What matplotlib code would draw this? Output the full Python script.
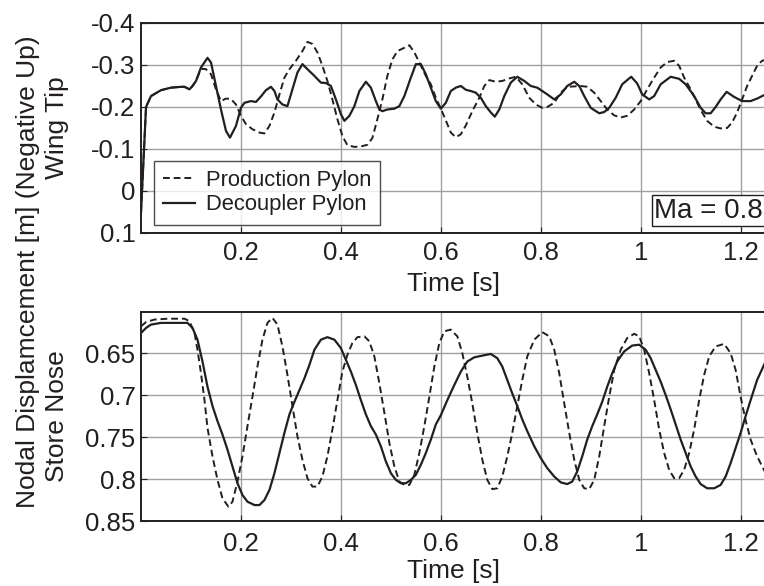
import matplotlib
matplotlib.use('agg')
import matplotlib.pyplot as plt

plt.rcParams['font.family'] = ['Liberation Sans', 'DejaVu Sans']

# Wing tip displacement (top panel)
t_prod_top = [0.0, 0.01, 0.02, 0.04, 0.06, 0.08, 0.087, 0.097, 0.103, 0.11, 0.12, 0.13, 0.14, 0.15,
              0.16, 0.17, 0.18, 0.19, 0.2, 0.21, 0.223, 0.237, 0.247, 0.257, 0.267, 0.277, 0.287,
              0.297, 0.31, 0.323, 0.333, 0.343, 0.353, 0.363, 0.373, 0.383, 0.393, 0.403, 0.413,
              0.427, 0.44, 0.453, 0.463, 0.473, 0.483, 0.493, 0.503, 0.513, 0.527, 0.537, 0.547,
              0.557, 0.57, 0.58, 0.59, 0.6, 0.61, 0.62, 0.63, 0.64, 0.65, 0.663, 0.677, 0.687,
              0.697, 0.71, 0.723, 0.737, 0.75, 0.763, 0.777, 0.79, 0.803, 0.813, 0.827, 0.84,
              0.853, 0.867, 0.88, 0.893, 0.907, 0.92, 0.933, 0.947, 0.96, 0.973, 0.987, 1.0,
              1.013, 1.027, 1.04, 1.053, 1.067, 1.077, 1.087, 1.1, 1.113, 1.123, 1.133, 1.147,
              1.16, 1.173, 1.183, 1.193, 1.203, 1.213, 1.223, 1.233, 1.243, 1.25]
y_prod_top = [0.05, -0.2, -0.226, -0.24, -0.246, -0.248, -0.248, -0.242, -0.25, -0.262, -0.291,
              -0.29, -0.278, -0.242, -0.214, -0.22, -0.219, -0.206, -0.179, -0.159, -0.147,
              -0.139, -0.137, -0.155, -0.187, -0.23, -0.27, -0.29, -0.31, -0.333, -0.355, -0.35,
              -0.33, -0.298, -0.262, -0.218, -0.171, -0.131, -0.109, -0.105, -0.106, -0.11,
              -0.126, -0.171, -0.218, -0.274, -0.313, -0.333, -0.341, -0.347, -0.33, -0.306,
              -0.274, -0.254, -0.222, -0.196, -0.168, -0.139, -0.128, -0.135, -0.156, -0.19,
              -0.222, -0.25, -0.264, -0.26, -0.262, -0.268, -0.272, -0.254, -0.222, -0.206,
              -0.198, -0.2, -0.21, -0.234, -0.248, -0.249, -0.25, -0.248, -0.234, -0.214,
              -0.194, -0.18, -0.175, -0.179, -0.194, -0.214, -0.242, -0.27, -0.294, -0.307,
              -0.31, -0.298, -0.27, -0.242, -0.21, -0.187, -0.167, -0.153, -0.149, -0.15,
              -0.163, -0.187, -0.218, -0.25, -0.274, -0.298, -0.31, -0.312]

t_dec_top = [0.0, 0.01, 0.02, 0.04, 0.06, 0.08, 0.087, 0.097, 0.103, 0.11, 0.12, 0.133, 0.14, 0.15,
             0.16, 0.17, 0.178, 0.19, 0.2, 0.207, 0.22, 0.23, 0.24, 0.25, 0.26, 0.267, 0.273,
             0.283, 0.293, 0.303, 0.313, 0.323, 0.333, 0.347, 0.36, 0.37, 0.38, 0.39, 0.4, 0.407,
             0.417, 0.427, 0.437, 0.45, 0.46, 0.47, 0.477, 0.483, 0.493, 0.507, 0.517, 0.527,
             0.54, 0.55, 0.56, 0.57, 0.58, 0.59, 0.6, 0.61, 0.62, 0.63, 0.64, 0.65, 0.66, 0.67,
             0.68, 0.69, 0.7, 0.708, 0.717, 0.727, 0.74, 0.753, 0.767, 0.78, 0.793, 0.803, 0.813,
             0.827, 0.84, 0.853, 0.867, 0.877, 0.887, 0.9, 0.917, 0.927, 0.937, 0.95, 0.963,
             0.981, 0.993, 1.003, 1.017, 1.027, 1.04, 1.06, 1.077, 1.09, 1.107, 1.12, 1.13,
             1.14, 1.15, 1.16, 1.172, 1.187, 1.203, 1.22, 1.233, 1.25]
y_dec_top = [0.05, -0.2, -0.226, -0.24, -0.246, -0.248, -0.248, -0.242, -0.25, -0.262, -0.294,
             -0.317, -0.306, -0.25, -0.194, -0.143, -0.127, -0.155, -0.198, -0.21, -0.214,
             -0.212, -0.225, -0.24, -0.248, -0.238, -0.218, -0.206, -0.202, -0.242, -0.282,
             -0.302, -0.29, -0.274, -0.258, -0.257, -0.25, -0.218, -0.183, -0.167, -0.179,
             -0.202, -0.238, -0.26, -0.246, -0.214, -0.194, -0.19, -0.194, -0.196, -0.202,
             -0.226, -0.27, -0.302, -0.302, -0.278, -0.246, -0.214, -0.196, -0.21, -0.238,
             -0.246, -0.25, -0.241, -0.238, -0.234, -0.222, -0.202, -0.187, -0.177, -0.194,
             -0.226, -0.258, -0.272, -0.262, -0.25, -0.246, -0.238, -0.23, -0.218, -0.23, -0.25,
             -0.26, -0.25, -0.226, -0.198, -0.185, -0.188, -0.198, -0.222, -0.254, -0.272,
             -0.256, -0.23, -0.218, -0.226, -0.254, -0.272, -0.267, -0.254, -0.226, -0.198,
             -0.185, -0.185, -0.2, -0.218, -0.236, -0.224, -0.214, -0.214, -0.22, -0.23]

# Store nose displacement (bottom panel)
t_prod_bot = [0.0, 0.01, 0.027, 0.053, 0.087, 0.097, 0.107, 0.113, 0.12, 0.127, 0.133, 0.143, 0.153,
              0.163, 0.175, 0.183, 0.193, 0.203, 0.213, 0.223, 0.233, 0.243, 0.253, 0.263, 0.273,
              0.283, 0.293, 0.303, 0.313, 0.323, 0.333, 0.343, 0.353, 0.363, 0.373, 0.383, 0.393,
              0.403, 0.413, 0.423, 0.433, 0.447, 0.457, 0.467, 0.477, 0.487, 0.497, 0.507, 0.517,
              0.527, 0.537, 0.547, 0.557, 0.567, 0.577, 0.587, 0.597, 0.607, 0.62, 0.633, 0.643,
              0.653, 0.663, 0.673, 0.683, 0.693, 0.703, 0.713, 0.723, 0.733, 0.743, 0.753, 0.763,
              0.773, 0.787, 0.803, 0.817, 0.827, 0.837, 0.847, 0.857, 0.867, 0.877, 0.887, 0.897,
              0.907, 0.917, 0.927, 0.937, 0.947, 0.96, 0.973, 0.987, 0.997, 1.007, 1.017, 1.027,
              1.037, 1.047, 1.057, 1.067, 1.077, 1.087, 1.097, 1.107, 1.117, 1.127, 1.137, 1.15,
              1.167, 1.18, 1.19, 1.2, 1.21, 1.22, 1.233, 1.25]
y_prod_bot = [0.618, 0.613, 0.61, 0.609, 0.609, 0.612, 0.626, 0.646, 0.674, 0.706, 0.739, 0.773,
              0.801, 0.823, 0.833, 0.827, 0.803, 0.773, 0.737, 0.702, 0.666, 0.634, 0.614, 0.608,
              0.616, 0.642, 0.676, 0.713, 0.749, 0.777, 0.799, 0.809, 0.809, 0.797, 0.773, 0.741,
              0.706, 0.672, 0.652, 0.638, 0.631, 0.63, 0.636, 0.654, 0.686, 0.721, 0.757, 0.785,
              0.803, 0.807, 0.807, 0.795, 0.769, 0.737, 0.702, 0.666, 0.638, 0.624, 0.622, 0.63,
              0.65, 0.678, 0.71, 0.745, 0.777, 0.801, 0.812, 0.811, 0.797, 0.773, 0.745, 0.713,
              0.682, 0.654, 0.634, 0.625, 0.63, 0.646, 0.674, 0.71, 0.745, 0.777, 0.801, 0.811,
              0.812, 0.801, 0.773, 0.737, 0.702, 0.67, 0.646, 0.632, 0.627, 0.63, 0.646, 0.674,
              0.706, 0.741, 0.769, 0.789, 0.799, 0.799, 0.789, 0.769, 0.741, 0.706, 0.676, 0.654,
              0.642, 0.639, 0.65, 0.67, 0.702, 0.73, 0.753, 0.773, 0.793]

t_dec_bot = [0.0, 0.01, 0.02, 0.04, 0.067, 0.093, 0.103, 0.113, 0.123, 0.133, 0.143, 0.153, 0.163,
             0.173, 0.183, 0.193, 0.203, 0.213, 0.227, 0.237, 0.247, 0.257, 0.267, 0.277, 0.287,
             0.297, 0.307, 0.317, 0.327, 0.337, 0.347, 0.36, 0.373, 0.387, 0.4, 0.41, 0.42, 0.43,
             0.44, 0.45, 0.46, 0.47, 0.48, 0.49, 0.5, 0.51, 0.52, 0.53, 0.54, 0.55, 0.56, 0.57,
             0.58, 0.59, 0.6, 0.613, 0.627, 0.64, 0.653, 0.667, 0.683, 0.7, 0.713, 0.723, 0.733,
             0.743, 0.753, 0.763, 0.773, 0.787, 0.8, 0.813, 0.827, 0.84, 0.853, 0.863, 0.873,
             0.883, 0.893, 0.903, 0.913, 0.923, 0.933, 0.943, 0.953, 0.967, 0.983, 0.997, 1.01,
             1.02, 1.03, 1.04, 1.05, 1.06, 1.07, 1.08, 1.09, 1.1, 1.11, 1.12, 1.133, 1.147, 1.16,
             1.17, 1.18, 1.19, 1.2, 1.21, 1.22, 1.233, 1.25]
y_dec_bot = [0.626, 0.62, 0.616, 0.614, 0.614, 0.614, 0.62, 0.634, 0.66, 0.69, 0.713, 0.731, 0.747,
             0.765, 0.785, 0.805, 0.819, 0.827, 0.831, 0.831, 0.825, 0.813, 0.793, 0.769, 0.745,
             0.723, 0.708, 0.694, 0.68, 0.664, 0.646, 0.634, 0.631, 0.634, 0.644, 0.658, 0.672,
             0.688, 0.706, 0.723, 0.737, 0.747, 0.761, 0.779, 0.793, 0.801, 0.805, 0.805, 0.801,
             0.795, 0.783, 0.769, 0.753, 0.735, 0.724, 0.706, 0.688, 0.672, 0.66, 0.655, 0.653,
             0.651, 0.656, 0.666, 0.682, 0.698, 0.713, 0.729, 0.743, 0.761, 0.775, 0.787, 0.797,
             0.804, 0.806, 0.803, 0.791, 0.773, 0.753, 0.737, 0.723, 0.708, 0.69, 0.674, 0.66,
             0.648, 0.641, 0.64, 0.646, 0.656, 0.67, 0.684, 0.7, 0.717, 0.735, 0.753, 0.769,
             0.785, 0.797, 0.806, 0.811, 0.811, 0.807, 0.797, 0.781, 0.763, 0.745, 0.725, 0.706,
             0.682, 0.66]

x_ticks = [0.2, 0.4, 0.6, 0.8, 1.0, 1.2]
x_tick_labels = ['0.2', '0.4', '0.6', '0.8', '1', '1.2']
top_y_ticks = [-0.4, -0.3, -0.2, -0.1, 0.0, 0.1]
top_y_labels = ['-0.4', '-0.3', '-0.2', '-0.1', '0', '0.1']
bot_y_ticks = [0.65, 0.7, 0.75, 0.8, 0.85]
bot_y_labels = ['0.65', '0.7', '0.75', '0.8', '0.85']

fs = 18.5   # tick labels
fl = 19     # axis labels
ink = '#231f20'
fig = plt.figure(figsize=(7.64, 5.86), dpi=100)
ax1 = fig.add_axes([0.1846, 0.6024, 0.8175, 0.3584])
ax2 = fig.add_axes([0.1846, 0.1109, 0.8175, 0.3567])

for ax in (ax1, ax2):
    ax.set_xlim(0, 1.25)
    ax.set_xticks(x_ticks)
    ax.set_xticklabels(x_tick_labels)
    ax.grid(True, color='#a0a0a0', linewidth=1.0)
    ax.set_axisbelow(True)
    ax.tick_params(direction='in', length=4, labelsize=fs, colors=ink)
    ax.tick_params(axis='y', pad=4)
    for s in ax.spines.values():
        s.set_linewidth(1.4)
        s.set_color(ink)

ax1.tick_params(axis='x', pad=6)
ax2.tick_params(axis='x', pad=8)
ax1.set_xlabel('Time [s]', fontsize=fl, color=ink, labelpad=5)
ax2.set_xlabel('Time [s]', fontsize=fl, color=ink, labelpad=2)

ax1.plot(t_prod_top, y_prod_top, color=ink, lw=1.4, ls=(0, (3.5, 2)), label='Production Pylon')
ax1.plot(t_dec_top, y_dec_top, color=ink, lw=1.6, label='Decoupler Pylon')
ax1.set_ylim(0.1, -0.4)
ax1.set_yticks(top_y_ticks)
ax1.set_yticklabels(top_y_labels)

leg = ax1.legend(loc='lower left', bbox_to_anchor=(0.02, 0.04), borderaxespad=0,
                 fontsize=15.8, fancybox=False, frameon=True, handlelength=1.45,
                 borderpad=0.42, labelspacing=0.15, handletextpad=0.5)
leg.get_frame().set_edgecolor(ink)
leg.get_frame().set_linewidth(1.0)
for txt in leg.get_texts():
    txt.set_color(ink)

ax1.text(0.996, 0.045, 'Ma = 0.8', transform=ax1.transAxes, ha='right', va='bottom',
         fontsize=20, color=ink,
         bbox=dict(boxstyle='square,pad=0.1', fc='white', ec=ink, lw=1.0))

ax2.plot(t_prod_bot, y_prod_bot, color=ink, lw=1.4, ls=(0, (3.5, 2)))
ax2.plot(t_dec_bot, y_dec_bot, color=ink, lw=1.6)
ax2.set_ylim(0.85, 0.601)
ax2.set_yticks(bot_y_ticks)
ax2.set_yticklabels(bot_y_labels)

fig.text(0.036, 0.536, 'Nodal Displamcement [m] (Negative Up)', rotation=90,
         ha='center', va='center', fontsize=fl, color=ink)
fig.text(0.075, 0.782, 'Wing Tip', rotation=90, ha='center', va='center',
         fontsize=fl, color=ink)
fig.text(0.075, 0.29, 'Store Nose', rotation=90, ha='center', va='center',
         fontsize=fl, color=ink)

fig.savefig('out.png', dpi=100)
plt.close(fig)
